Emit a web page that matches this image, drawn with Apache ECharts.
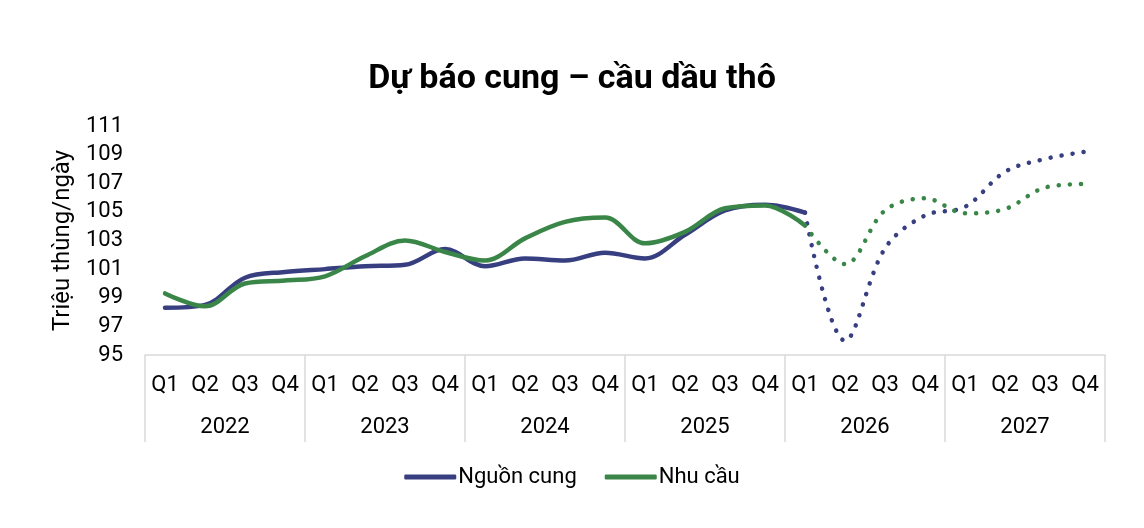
<!DOCTYPE html>
<html>
<head>
<meta charset="utf-8">
<script src="https://cdn.jsdelivr.net/npm/echarts@6/dist/echarts.min.js"></script>
<style>
html,body{margin:0;padding:0;background:#fff;}
#chart{width:1144px;height:528px;}
</style>
</head>
<body>
<div id="chart"></div>
<script>
const quarterLabels = ['Q1', 'Q2', 'Q3', 'Q4'];
const years = ['2022', '2023', '2024', '2025', '2026', '2027'];
const supply = [98.3, 98.5, 100.4, 100.8, 101.0, 101.2, 101.3, 102.4, 101.2, 101.75, 101.6, 102.15, 101.75, 103.4, 105.1, 105.5, 104.95, 96.0, 102.45, 104.75, 105.35, 107.8, 108.7, 109.2];
const demand = [99.3, 98.4, 100.0, 100.2, 100.5, 101.9, 103.0, 102.2, 101.6, 103.15, 104.3, 104.6, 102.8, 103.6, 105.25, 105.45, 104.05, 101.35, 105.1, 105.95, 104.9, 105.2, 106.7, 106.95];
const forecastStart = 16; // Q1 2026
const yTicks = [95, 97, 99, 101, 103, 105, 107, 109, 111];

const categories = [];
years.forEach(y => quarterLabels.forEach(q => categories.push(q + ' ' + y)));

const solidPart = arr => arr.map((v, i) => i <= forecastStart ? v : null);
const dottedPart = arr => arr.map((v, i) => i >= forecastStart ? v : null);

const navy = '#383f80';
const green = '#3a8648';
const font = 'Roboto';
const fs = 22;

const chart = echarts.init(document.getElementById('chart'), null, {renderer: 'canvas'});
chart.setOption({
  animation: false,
  backgroundColor: '#fff',
  textStyle: {fontFamily: font},
  title: {
    text: 'Dự báo cung – cầu dầu thô',
    left: 'center',
    top: 57,
    textStyle: {fontFamily: font, fontWeight: 'bold', fontSize: 34, color: '#000'}
  },
  legend: {
    data: ['Nguồn cung', 'Nhu cầu'],
    left: 'center',
    top: 461,
    icon: 'roundRect',
    itemWidth: 52,
    itemHeight: 5,
    itemGap: 28,
    textStyle: {fontFamily: font, fontSize: fs, color: '#000', padding: [0, 0, 0, -3]}
  },
  grid: {left: 145, right: 39, top: 126, bottom: 173, containLabel: false},
  xAxis: [
    {
      type: 'category',
      data: categories,
      boundaryGap: true,
      position: 'bottom',
      axisLine: {show: false},
      axisTick: {show: false},
      axisLabel: {
        interval: 0, margin: 19, fontSize: fs, color: '#000', fontFamily: font,
        formatter: v => v.split(' ')[0]
      }
    },
    {
      type: 'category',
      data: years,
      boundaryGap: true,
      position: 'bottom',
      axisLine: {show: true, lineStyle: {color: '#d9d9d9', width: 1.5}},
      axisTick: {show: true, interval: 0, length: 87, lineStyle: {color: '#d9d9d9', width: 1.5}},
      axisLabel: {interval: 0, margin: 61, fontSize: fs, color: '#000', fontFamily: font},
      splitLine: {show: false}
    }
  ],
  yAxis: {
    type: 'value',
    min: yTicks[0],
    max: yTicks[yTicks.length - 1],
    interval: 2,
    name: 'Triệu thùng/ngày',
    nameLocation: 'middle',
    nameGap: 65,
    nameRotate: 90,
    nameTextStyle: {fontFamily: font, fontSize: 24, color: '#000'},
    axisLine: {show: false},
    axisTick: {show: false},
    splitLine: {show: false},
    axisLabel: {margin: 22, fontSize: fs, color: '#000', fontFamily: font}
  },
  series: [
    {
      name: 'Nguồn cung', type: 'line', xAxisIndex: 0, data: solidPart(supply),
      smooth: 0.35, showSymbol: false, symbol: 'none', connectNulls: false,
      lineStyle: {color: navy, width: 4.5, cap: 'round'}, itemStyle: {color: navy}, z: 3
    },
    {
      name: 'Nhu cầu', type: 'line', xAxisIndex: 0, data: solidPart(demand),
      smooth: 0.35, showSymbol: false, symbol: 'none',
      lineStyle: {color: green, width: 4.5, cap: 'round'}, itemStyle: {color: green}, z: 4
    },
    {
      name: 'Nguồn cung (dự báo)', type: 'line', xAxisIndex: 0, data: dottedPart(supply),
      smooth: 0.35, showSymbol: false, symbol: 'none',
      lineStyle: {color: navy, width: 4.5, type: [0.1, 11], cap: 'round'}, itemStyle: {color: navy}, z: 3
    },
    {
      name: 'Nhu cầu (dự báo)', type: 'line', xAxisIndex: 0, data: dottedPart(demand),
      smooth: 0.35, showSymbol: false, symbol: 'none',
      lineStyle: {color: green, width: 4.5, type: [0.1, 11], cap: 'round'}, itemStyle: {color: green}, z: 4
    }
  ]
});
</script>
</body>
</html>
